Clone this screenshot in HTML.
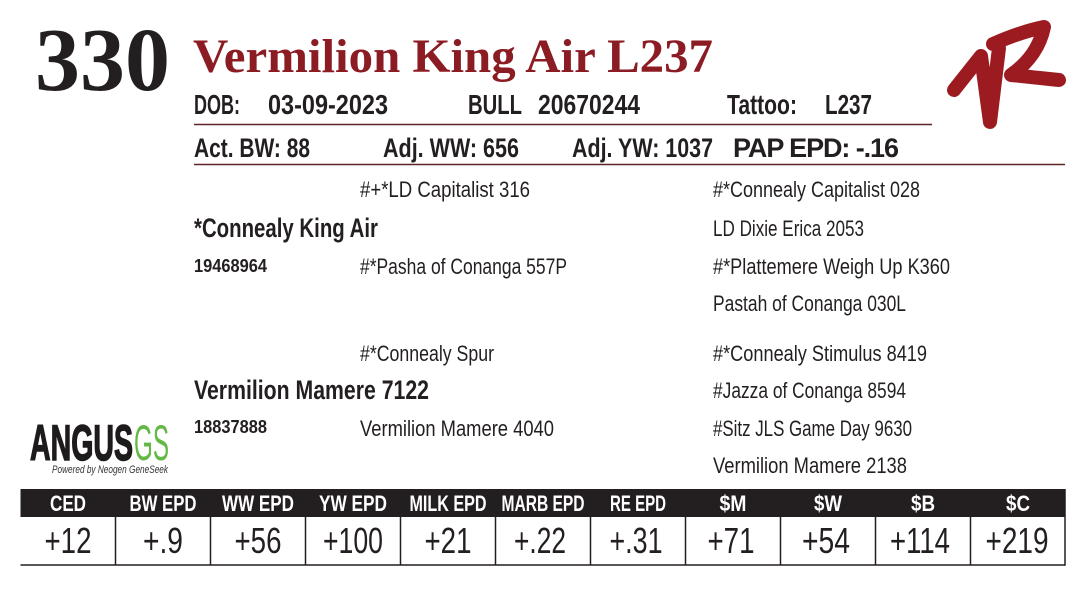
<!DOCTYPE html>
<html>
<head>
<meta charset="utf-8">
<style>
  html,body{margin:0;padding:0;background:#fff;}
  body{width:1083px;height:594px;overflow:hidden;}
  svg{display:block;}
  .c{font-family:"Liberation Sans Narrow","Liberation Sans",sans-serif;fill:#231f20;}
  .s{font-family:"Liberation Serif",serif;font-weight:bold;}
  .b{font-weight:bold;}
</style>
</head>
<body>
<svg width="1083" height="594" viewBox="0 0 1083 594" xmlns="http://www.w3.org/2000/svg">
  <rect width="1083" height="594" fill="#fff"/>

  <!-- Lot number -->
  <text class="s" x="35" y="90" font-size="90" fill="#231f20" textLength="135" lengthAdjust="spacingAndGlyphs">330</text>
  <!-- Title -->
  <text class="s" x="193" y="72" font-size="48" fill="#8c1c23" textLength="520" lengthAdjust="spacingAndGlyphs">Vermilion King Air L237</text>

  <!-- Row 1 -->
  <g class="c b" font-size="28">
    <text x="194" y="114" textLength="46" lengthAdjust="spacingAndGlyphs">DOB:</text>
    <text x="268" y="114" textLength="120" lengthAdjust="spacingAndGlyphs">03-09-2023</text>
    <text x="468" y="114" textLength="54" lengthAdjust="spacingAndGlyphs">BULL</text>
    <text x="538" y="114" textLength="102" lengthAdjust="spacingAndGlyphs">20670244</text>
    <text x="727" y="114" textLength="70" lengthAdjust="spacingAndGlyphs">Tattoo:</text>
    <text x="825" y="114" textLength="47" lengthAdjust="spacingAndGlyphs">L237</text>
  </g>
  <line x1="194" y1="124.5" x2="932" y2="124.5" stroke="#5e2424" stroke-width="1.6"/>

  <!-- Row 2 -->
  <g class="c b" font-size="27">
    <text x="194" y="157" textLength="116" lengthAdjust="spacingAndGlyphs">Act. BW: 88</text>
    <text x="383" y="157" textLength="136" lengthAdjust="spacingAndGlyphs">Adj. WW: 656</text>
    <text x="572" y="157" textLength="141" lengthAdjust="spacingAndGlyphs">Adj. YW: 1037</text>
    <text x="733" y="157" textLength="166" lengthAdjust="spacing">PAP EPD: -.16</text>
  </g>
  <line x1="194" y1="164.5" x2="1065" y2="164.5" stroke="#5e2424" stroke-width="1.6"/>

  <!-- VR brand logo -->
  <g fill="none" stroke="#9b1b20" stroke-width="14" stroke-linecap="round" stroke-linejoin="round">
    <path d="M954,90 L981,56 L990,122 L999,48"/>
    <path d="M993,44 Q1020,32 1044,27 Q1038,56 1011,75 L1059,80"/>
  </g>

  <!-- Pedigree -->
  <g class="c" font-size="22">
    <text x="360" y="197" textLength="170" lengthAdjust="spacingAndGlyphs">#+*LD Capitalist 316</text>
    <text x="360" y="274" textLength="207" lengthAdjust="spacingAndGlyphs">#*Pasha of Conanga 557P</text>
    <text x="713" y="197" textLength="207" lengthAdjust="spacingAndGlyphs">#*Connealy Capitalist 028</text>
    <text x="713" y="236" textLength="151" lengthAdjust="spacingAndGlyphs">LD Dixie Erica 2053</text>
    <text x="713" y="274" textLength="237" lengthAdjust="spacingAndGlyphs">#*Plattemere Weigh Up K360</text>
    <text x="713" y="311" textLength="193" lengthAdjust="spacingAndGlyphs">Pastah of Conanga 030L</text>

    <text x="360" y="361" textLength="134" lengthAdjust="spacingAndGlyphs">#*Connealy Spur</text>
    <text x="360" y="436" textLength="194" lengthAdjust="spacingAndGlyphs">Vermilion Mamere 4040</text>
    <text x="713" y="361" textLength="214" lengthAdjust="spacingAndGlyphs">#*Connealy Stimulus 8419</text>
    <text x="713" y="398" textLength="193" lengthAdjust="spacingAndGlyphs">#Jazza of Conanga 8594</text>
    <text x="713" y="436" textLength="199" lengthAdjust="spacingAndGlyphs">#Sitz JLS Game Day 9630</text>
    <text x="713" y="473" textLength="194" lengthAdjust="spacingAndGlyphs">Vermilion Mamere 2138</text>
  </g>
  <g class="c b">
    <text x="194" y="237" font-size="27" textLength="184" lengthAdjust="spacingAndGlyphs">*Connealy King Air</text>
    <text x="194" y="272" font-size="18" textLength="73" lengthAdjust="spacingAndGlyphs">19468964</text>
    <text x="194" y="399" font-size="27" textLength="235" lengthAdjust="spacingAndGlyphs">Vermilion Mamere 7122</text>
    <text x="194" y="433" font-size="18" textLength="73" lengthAdjust="spacingAndGlyphs">18837888</text>
  </g>

  <!-- ANGUS GS logo -->
  <text x="30" y="460" font-family="Liberation Sans,sans-serif" font-weight="bold" font-size="50" fill="#1e1b1c" stroke="#1e1b1c" stroke-width="1.5" textLength="103" lengthAdjust="spacingAndGlyphs">ANGUS</text>
  <text x="134" y="460" font-family="Liberation Sans,sans-serif" font-size="50" fill="#64b845" textLength="35" lengthAdjust="spacingAndGlyphs">GS</text>
  <text x="52" y="473" font-family="Liberation Sans,sans-serif" font-style="italic" font-size="11" fill="#333" textLength="116" lengthAdjust="spacingAndGlyphs">Powered by Neogen GeneSeek</text>

  <!-- EPD table -->
  <rect x="20.5" y="489" width="1045" height="28" fill="#231f20"/>
  <g stroke="#231f20" stroke-width="1.5">
    <line x1="20.5" y1="565" x2="1065.5" y2="565"/>
    <line x1="1065" y1="489" x2="1065" y2="565.7"/>
    <line x1="115.5" y1="517" x2="115.5" y2="565"/>
    <line x1="210.5" y1="517" x2="210.5" y2="565"/>
    <line x1="305.5" y1="517" x2="305.5" y2="565"/>
    <line x1="400.5" y1="517" x2="400.5" y2="565"/>
    <line x1="495.5" y1="517" x2="495.5" y2="565"/>
    <line x1="590.5" y1="517" x2="590.5" y2="565"/>
    <line x1="685.5" y1="517" x2="685.5" y2="565"/>
    <line x1="780.5" y1="517" x2="780.5" y2="565"/>
    <line x1="875.5" y1="517" x2="875.5" y2="565"/>
    <line x1="970.5" y1="517" x2="970.5" y2="565"/>
  </g>
  <g class="b" font-family="Liberation Sans Narrow,Liberation Sans,sans-serif" font-size="22" fill="#fff" text-anchor="middle">
    <text x="68" y="511" textLength="36" lengthAdjust="spacingAndGlyphs">CED</text>
    <text x="163" y="511" textLength="67" lengthAdjust="spacingAndGlyphs">BW EPD</text>
    <text x="258" y="511" textLength="72" lengthAdjust="spacingAndGlyphs">WW EPD</text>
    <text x="353" y="511" textLength="68" lengthAdjust="spacingAndGlyphs">YW EPD</text>
    <text x="448" y="511" textLength="77" lengthAdjust="spacingAndGlyphs">MILK EPD</text>
    <text x="543" y="511" textLength="83" lengthAdjust="spacingAndGlyphs">MARB EPD</text>
    <text x="638" y="511" textLength="56" lengthAdjust="spacingAndGlyphs">RE EPD</text>
    <text x="733" y="511" textLength="27" lengthAdjust="spacingAndGlyphs">$M</text>
    <text x="828" y="511" textLength="28" lengthAdjust="spacingAndGlyphs">$W</text>
    <text x="923" y="511" textLength="24" lengthAdjust="spacingAndGlyphs">$B</text>
    <text x="1018" y="511" textLength="24" lengthAdjust="spacingAndGlyphs">$C</text>
  </g>
  <g class="c" font-size="36" text-anchor="middle">
    <text x="68" y="553" textLength="47" lengthAdjust="spacingAndGlyphs">+12</text>
    <text x="163" y="553" textLength="40" lengthAdjust="spacingAndGlyphs">+.9</text>
    <text x="258" y="553" textLength="47" lengthAdjust="spacingAndGlyphs">+56</text>
    <text x="353" y="553" textLength="60" lengthAdjust="spacingAndGlyphs">+100</text>
    <text x="448" y="553" textLength="47" lengthAdjust="spacingAndGlyphs">+21</text>
    <text x="540" y="553" textLength="52" lengthAdjust="spacingAndGlyphs">+.22</text>
    <text x="636" y="553" textLength="53" lengthAdjust="spacingAndGlyphs">+.31</text>
    <text x="731" y="553" textLength="47" lengthAdjust="spacingAndGlyphs">+71</text>
    <text x="826" y="553" textLength="48" lengthAdjust="spacingAndGlyphs">+54</text>
    <text x="920" y="553" textLength="60" lengthAdjust="spacingAndGlyphs">+114</text>
    <text x="1017" y="553" textLength="63" lengthAdjust="spacingAndGlyphs">+219</text>
  </g>
</svg>
</body>
</html>
